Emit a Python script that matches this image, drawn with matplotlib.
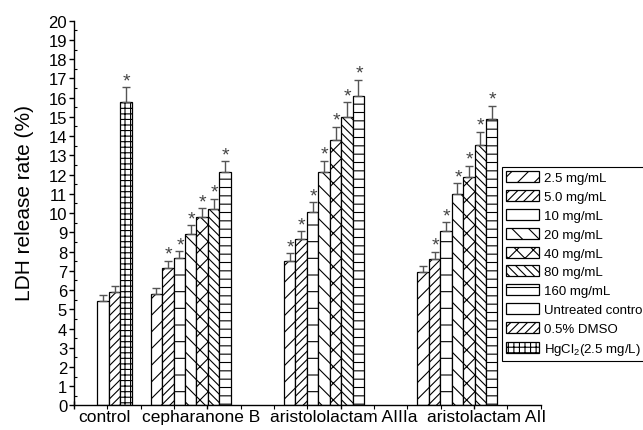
import numpy as np
import matplotlib
matplotlib.use("Agg")
import matplotlib.pyplot as plt
from matplotlib.ticker import MultipleLocator

plt.rcParams['font.family'] = ['Liberation Sans', 'DejaVu Sans']
plt.rcParams['mathtext.default'] = 'regular'
plt.rcParams['hatch.linewidth'] = 0.8

groups = ['control', 'cepharanone B', 'aristololactam AIIIa', 'aristolactam AII']
series = ['2.5 mg/mL', '5.0 mg/mL', '10 mg/mL', '20 mg/mL', '40 mg/mL',
          '80 mg/mL', '160 mg/mL', 'Untreated control', '0.5% DMSO',
          'HgCl$_2$(2.5 mg/L)']
hatches = ['//', '////', '-', '\\\\', 'xx', '\\\\\\\\', '--', '', '////', '+++']

# compound groups: one value per concentration (series 0-6)
ceph_vals = [5.80, 7.13, 7.65, 8.91, 9.78, 10.21, 12.12]
ceph_err = [0.29, 0.38, 0.36, 0.46, 0.47, 0.52, 0.57]
ceph_sig = [0, 1, 1, 1, 1, 1, 1]

a3a_vals = [7.53, 8.65, 10.04, 12.12, 13.78, 14.98, 16.10]
a3a_err = [0.38, 0.40, 0.52, 0.59, 0.71, 0.78, 0.82]
a3a_sig = [1, 1, 1, 1, 1, 1, 1]

a2_vals = [6.92, 7.61, 9.05, 10.99, 11.89, 13.54, 14.89]
a2_err = [0.35, 0.39, 0.47, 0.56, 0.57, 0.69, 0.69]
a2_sig = [0, 1, 1, 1, 1, 1, 1]

# control group: untreated, DMSO, HgCl2 (series 7-9)
ctrl_vals = [5.45, 5.88, 15.76]
ctrl_err = [0.29, 0.32, 0.78]
ctrl_sig = [0, 0, 1]

label_pos = [0.90, 3.81, 8.10, 12.39]

fig = plt.figure(figsize=(6.43, 4.31), dpi=100)
ax = fig.add_axes([0.1152, 0.0569, 0.7257, 0.8928])

w = 0.343
group_step = 4.0
first_slot = -1.70

# collect (group, value, err, sig) per series
entries = {i: [] for i in range(10)}
for s in range(7):
    entries[s].append((1, ceph_vals[s], ceph_err[s], ceph_sig[s]))
    entries[s].append((2, a3a_vals[s], a3a_err[s], a3a_sig[s]))
    entries[s].append((3, a2_vals[s], a2_err[s], a2_sig[s]))
for k in range(3):
    entries[7 + k].append((0, ctrl_vals[k], ctrl_err[k], ctrl_sig[k]))

handles = []
for s in range(10):
    g = np.array([e[0] for e in entries[s]])
    v = np.array([e[1] for e in entries[s]])
    e = np.array([e[2] for e in entries[s]])
    sig = [x[3] for x in entries[s]]
    left = g * group_step + first_slot + s * w
    bars = ax.bar(left, v, width=w, align='edge', color='white',
                  edgecolor='black', linewidth=0.9, hatch=hatches[s],
                  label=series[s], zorder=2)
    handles.append(bars)
    xc = left + w / 2
    ax.errorbar(xc, v, yerr=[np.zeros_like(e), e], fmt='none',
                ecolor='#555555', elinewidth=1.0, capsize=2.6,
                capthick=1.0, zorder=3)
    for xi, top, flag in zip(xc, v + e, sig):
        if flag:
            ax.annotate('*', (xi, top), xytext=(0.5, 1.5),
                        textcoords='offset points', ha='center',
                        va='baseline', fontsize=14, color='#444444')

ax.set_xlim(0, 14)
ax.set_ylim(0, 20)
ax.spines['top'].set_visible(False)
ax.spines['right'].set_visible(False)
ax.spines['left'].set_linewidth(1.0)
ax.spines['bottom'].set_linewidth(1.0)

ax.yaxis.set_major_locator(MultipleLocator(1))
ax.yaxis.set_minor_locator(MultipleLocator(0.5))
ax.tick_params(axis='y', which='major', direction='out', length=3.5,
               width=1.0, labelsize=12, pad=1.5)
ax.tick_params(axis='y', which='minor', direction='in', length=2.2, width=0.8)

ax.xaxis.set_major_locator(MultipleLocator(4))
ax.xaxis.set_minor_locator(MultipleLocator(1))
ax.tick_params(axis='x', which='major', direction='inout', length=6,
               width=1.0, labelbottom=False)
ax.tick_params(axis='x', which='minor', direction='out', length=3, width=0.8)

for xp, name in zip(label_pos, groups):
    ax.text(xp, -0.2, name, ha='center', va='top', fontsize=12.5)

fig.text(25 / 643, 1 - 203 / 431, 'LDH release rate (%)', rotation=90,
         ha='center', va='center', fontsize=15)

leg = fig.legend(handles=handles, loc='upper left',
                 bbox_to_anchor=(501.7 / 643, 1 - 168.3 / 431),
                 bbox_transform=fig.transFigure, borderaxespad=0,
                 fontsize=9.5, handlelength=2.5, handleheight=0.9,
                 handletextpad=0.4, labelspacing=0.44, borderpad=0.3,
                 fancybox=False, framealpha=1, edgecolor='black')
leg.get_frame().set_linewidth(0.8)

fig.savefig('out.png', dpi=100)
